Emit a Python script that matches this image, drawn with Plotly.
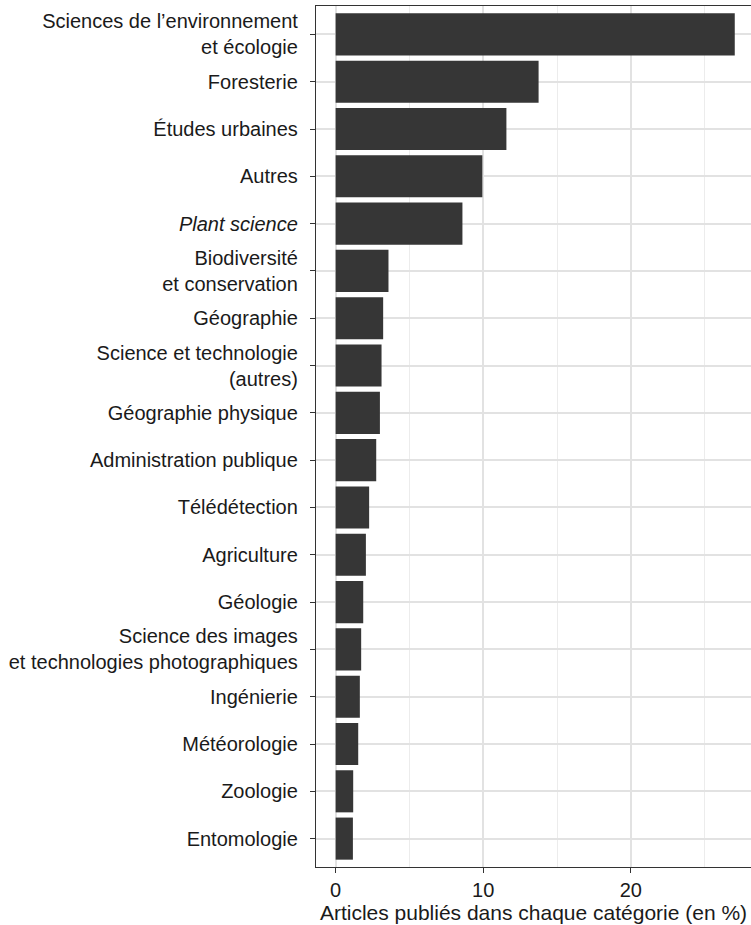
import plotly.graph_objects as go

categories = [
    "Sciences de l’environnement<br>et écologie",
    "Foresterie",
    "Études urbaines",
    "Autres",
    "<i>Plant science</i>",
    "Biodiversité<br>et conservation",
    "Géographie",
    "Science et technologie<br>(autres)",
    "Géographie physique",
    "Administration publique",
    "Télédétection",
    "Agriculture",
    "Géologie",
    "Science des images<br>et technologies photographiques",
    "Ingénierie",
    "Météorologie",
    "Zoologie",
    "Entomologie",
]
values = [27.04, 13.75, 11.57, 9.94, 8.59, 3.58, 3.22, 3.11, 3.00, 2.75,
          2.27, 2.05, 1.87, 1.73, 1.64, 1.53, 1.19, 1.17]

x_ticks = [0, 10, 20]
x_title = "Articles publiés dans chaque catégorie (en %)"

FONT = "Liberation Sans, Arial, Helvetica, sans-serif"
FS = 20

fig = go.Figure(
    go.Bar(
        x=values,
        y=categories,
        orientation="h",
        width=0.89,
        marker=dict(color="#363636", line=dict(width=0)),
        hoverinfo="x+y",
    )
)

fig.update_layout(
    width=751,
    height=925,
    margin=dict(l=316, r=0, t=6, b=58),
    paper_bgcolor="white",
    plot_bgcolor="white",
    showlegend=False,
    font=dict(family=FONT, size=FS, color="#1a1a1a"),
)

fig.update_xaxes(
    range=[-1.33, 28.14],
    tickmode="array",
    tickvals=x_ticks,
    ticktext=[str(v) for v in x_ticks],
    showgrid=True,
    gridcolor="#e2e2e2",
    gridwidth=1.6,
    minor=dict(tickmode="linear", tick0=0, dtick=5, showgrid=True,
               gridcolor="#ececec", gridwidth=1.1, ticklen=0),
    zeroline=False,
    showline=True,
    linecolor="#333333",
    linewidth=1.3,
    mirror=True,
    ticks="outside",
    ticklen=5,
    tickwidth=1.3,
    tickcolor="#333333",
    tickfont=dict(size=FS, color="#1a1a1a"),
    title=dict(text=x_title, font=dict(size=21, color="#1a1a1a"), standoff=3),
    automargin=False,
)

fig.update_yaxes(
    type="category",
    categoryorder="array",
    categoryarray=categories,
    range=[17.6, -0.6],
    showgrid=True,
    gridcolor="#e2e2e2",
    gridwidth=1.6,
    zeroline=False,
    showline=True,
    linecolor="#333333",
    linewidth=1.3,
    mirror=False,
    ticks="outside",
    ticklen=5,
    tickwidth=1.3,
    tickcolor="#333333",
    ticklabelstandoff=8,
    tickfont=dict(size=FS, color="#1a1a1a"),
    automargin=False,
)

fig.write_html(
    "out.html",
    config={"displayModeBar": False},
    post_script="document.body.style.margin='0';document.body.style.overflow='hidden';",
)
